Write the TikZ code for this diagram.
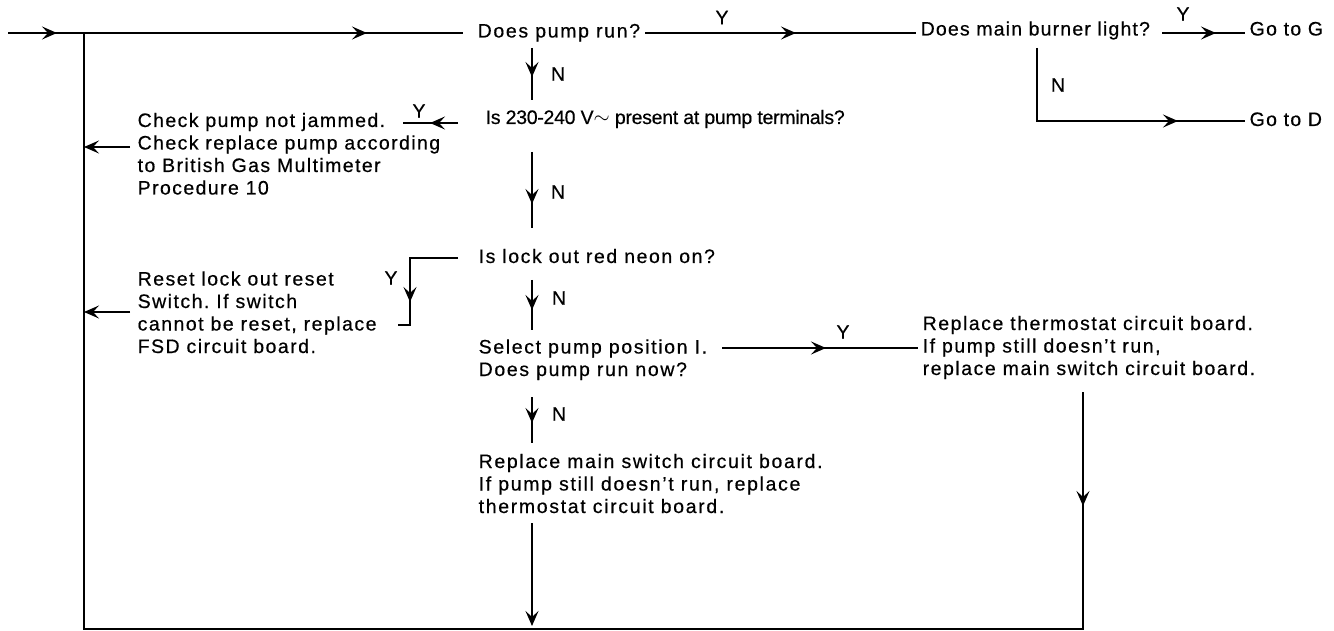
\documentclass[tikz,border=0pt]{standalone}
\usepackage{fontspec}
\setmainfont{Liberation Sans}[FakeBold=0.5]
\frenchspacing
\usetikzlibrary{arrows.meta,decorations.markings}
\begin{document}
\begin{tikzpicture}[x=1pt,y=-1pt,line width=1.4pt,
  txt/.style={anchor=base west,inner sep=0pt,align=left,font=\fontsize{19.5}{22.5}\selectfont\frenchspacing\addfontfeatures{LetterSpace=#1}},
  txt/.default=8,
  lbl/.style={inner sep=0pt,font=\fontsize{19.5}{22.5}\selectfont},
  >={Stealth[length=15pt,width=13pt,inset=6pt]},
  tipat/.style={postaction={decorate,decoration={markings,mark=at position #1 with {\arrow{>}}}}}]
\useasboundingbox (0,0) rectangle (1334,631);

% text nodes (multi-line nodes are placed by the baseline of their last line)
\node[txt=8.5] (q1) at (477,37.5) {Does pump run?};
\node[txt=6] (q2) at (920,35.5) {Does main burner light?};
\node[txt=6.5] (g) at (1249,35.5) {Go to G};
\node[txt=6.5] (d) at (1249,126) {Go to D};
\node[txt=-1.5] (q3) at (485,124) {Is 230-240 V$\sim$\ present at pump terminals?};
\node[txt=7.2] (a1) at (137,194.5) {Check pump not jammed.\\Check replace pump according\\to British Gas Multimeter\\Procedure 10};
\node[txt=8] (q4) at (478,263) {Is lock out red neon on?};
\node[txt=7.6] (a2) at (137,353) {Reset lock out reset\\Switch. If switch\\cannot be reset, replace\\FSD circuit board.};
\node[txt=8.4] (q5) at (478,376) {Select pump position I.\\Does pump run now?};
\node[txt=7.8] (a3) at (922,375) {Replace thermostat circuit board.\\If pump still doesn’t run,\\replace main switch circuit board.};
\node[txt=8.5] (a4) at (478,513) {Replace main switch circuit board.\\If pump still doesn’t run, replace\\thermostat circuit board.};

% labels
\node[lbl] (y1) at (722,17.5) {Y};
\node[lbl] (y2) at (1183,14) {Y};
\node[lbl] (n2) at (1058,85) {N};
\node[lbl] (n1) at (558,74) {N};
\node[lbl] (y3) at (419,111) {Y};
\node[lbl] (n3) at (558,192) {N};
\node[lbl] (y4) at (391,278) {Y};
\node[lbl] (n4) at (559,298) {N};
\node[lbl] (y5) at (843,332) {Y};
\node[lbl] (n5) at (559,414) {N};

% coordinates
\coordinate (s) at (8,33);
\coordinate (j) at (84,33);
\coordinate (q1in) at (463,33);
\coordinate (q1out) at (645,33);
\coordinate (q2in) at (916,33);
\coordinate (q2out) at (1162,33);
\coordinate (gin) at (1245,33);
\coordinate (q2n) at (1037,48);
\coordinate (q2c) at (1037,121);
\coordinate (din) at (1245,121);
\coordinate (q1n) at (532,48);
\coordinate (q3in) at (532,100);
\coordinate (q3y) at (458,123);
\coordinate (a1in) at (403,123);
\coordinate (a1out) at (130,147);
\coordinate (j1) at (84,147);
\coordinate (q3n) at (532,152);
\coordinate (q4in) at (532,228);
\coordinate (q4y) at (458,258);
\coordinate (c4a) at (410,258);
\coordinate (c4b) at (410,325);
\coordinate (a2in) at (398,325);
\coordinate (a2out) at (130,312);
\coordinate (j2) at (84,312);
\coordinate (q4n) at (532,280);
\coordinate (q5in) at (532,330);
\coordinate (q5y) at (722,348);
\coordinate (a3in) at (918,348);
\coordinate (q5n) at (532,397);
\coordinate (a4in) at (532,443);
\coordinate (a4out) at (532,523);
\coordinate (b4) at (532,629);
\coordinate (a3out) at (1083,392);
\coordinate (br) at (1083,629);
\coordinate (bl) at (84,629);

% connectors
\draw[tipat=49pt,tipat=359pt] (s) -- (q1in);
\draw[tipat=151pt] (q1out) -- (q2in);
\draw[tipat=54pt] (q2out) -- (gin);
\draw[tipat=214pt] (q2n) -- (q2c) -- (din);
\draw[tipat=29pt] (q1n) -- (q3in);
\draw[tipat=28pt] (q3y) -- (a1in);
\draw[->] (a1out) -- (j1);
\draw[tipat=52pt] (q3n) -- (q4in);
\draw[tipat=92pt] (q4y) -- (c4a) -- (c4b) -- (a2in);
\draw[->] (a2out) -- (j2);
\draw[tipat=30pt] (q4n) -- (q5in);
\draw[tipat=104pt] (q5y) -- (a3in);
\draw[tipat=26pt] (q5n) -- (a4in);
\draw[->,shorten >=3pt] (a4out) -- (b4);
\draw[tipat=114pt] (a3out) -- (br) -- (bl) -- (j);
\end{tikzpicture}
\end{document}
